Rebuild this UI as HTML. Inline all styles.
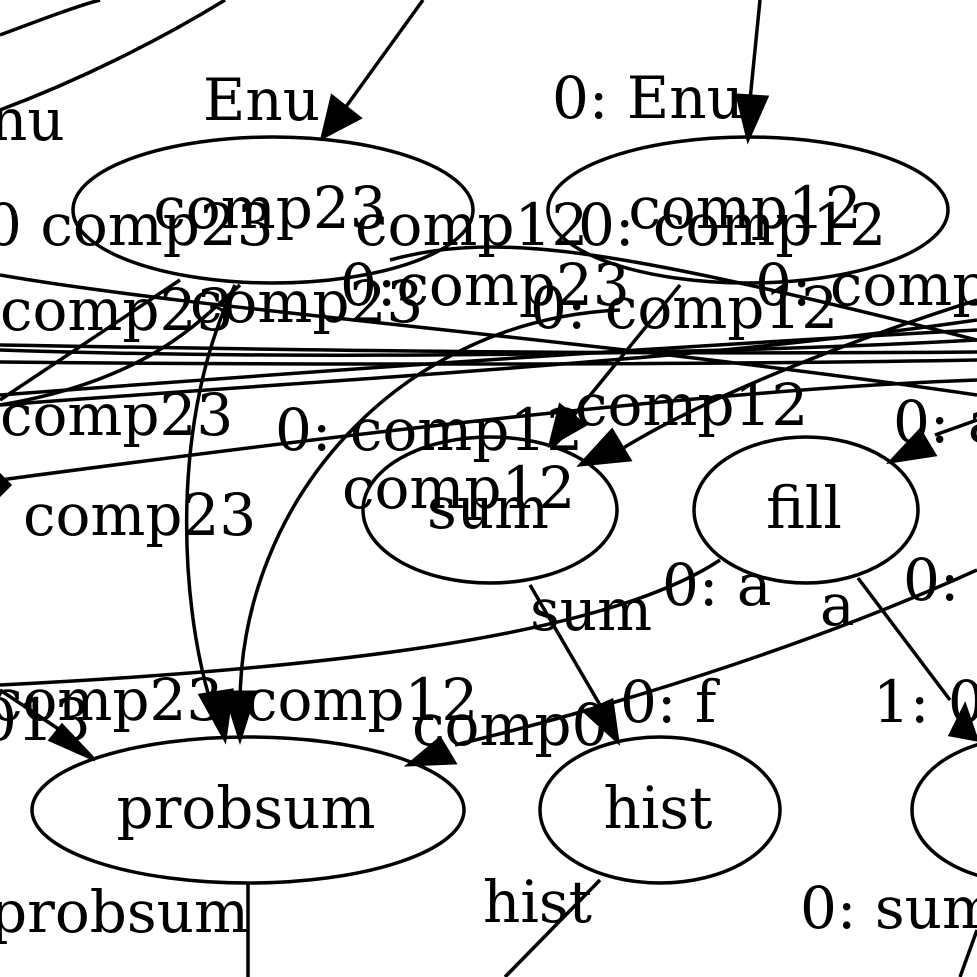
<!DOCTYPE html>
<html><head><meta charset="utf-8"><style>
html,body{margin:0;padding:0;background:#fff;width:977px;height:977px;overflow:hidden}
text{font-family:"DejaVu Serif","Liberation Serif",serif;font-size:58px;fill:#000}
</style></head><body>
<svg width="977" height="977" viewBox="0 0 977 977" xmlns="http://www.w3.org/2000/svg">
<g fill="none" stroke="#000" stroke-width="3.5">
<ellipse cx="273" cy="210" rx="200" ry="73"/>
<ellipse cx="748" cy="210" rx="200" ry="73"/>
<ellipse cx="490" cy="510" rx="127" ry="73"/>
<ellipse cx="806" cy="510" rx="112" ry="73"/>
<ellipse cx="248" cy="810" rx="216" ry="73"/>
<ellipse cx="660" cy="810" rx="120" ry="73"/>
<ellipse cx="1030" cy="810" rx="118" ry="73"/>
<path d="M0,35 C40,20 80,5 100,0"/>
<path d="M0,110 C80,80 160,40 225,0"/>
<path d="M423,0 L340,115"/>
<path d="M760,0 L750,100"/>
<path d="M0,275 C200,310 600,340 977,395"/>
<path d="M0,350 C300,360 700,355 977,340"/>
<path d="M0,362 C300,365 700,365 977,360"/>
<path d="M0,345 C300,350 600,355 977,352"/>
<path d="M0,405 C150,380 200,320 240,285"/>
<path d="M0,395 C200,380 600,350 977,330"/>
<path d="M0,400 L180,280"/>
<path d="M0,405 C400,375 700,360 977,320"/>
<path d="M0,480 C300,440 700,390 977,380"/>
<path d="M235,285 C170,420 180,600 210,700"/>
<path d="M240,705 C240,500 400,320 620,310"/>
<path d="M680,285 L570,420"/>
<path d="M977,300 C850,340 700,400 620,450"/>
<path d="M977,420 L935,435"/>
<path d="M390,260 C500,230 620,250 977,340"/>
<path d="M0,685 C300,670 600,640 720,560"/>
<path d="M0,690 L60,730"/>
<path d="M530,585 L600,705"/>
<path d="M977,570 C800,650 600,710 455,745"/>
<path d="M858,578 L950,700"/>
<path d="M248,883 L248,977"/>
<path d="M600,880 L505,977"/>
<path d="M977,930 L960,977"/>
</g>
<g fill="#000" stroke="#000" stroke-width="3">
<polygon points="322,138 332,96 360,118"/>
<polygon points="748,140 737,95 767,97"/>
<polygon points="550,445 560,405 585,425"/>
<polygon points="580,465 612,430 630,460"/>
<polygon points="890,462 920,430 935,455"/>
<polygon points="0,495 0,475 10,485"/>
<polygon points="225,740 200,695 232,690"/>
<polygon points="240,740 225,692 255,692"/>
<polygon points="95,760 50,740 62,725"/>
<polygon points="618,742 585,712 612,700"/>
<polygon points="408,765 440,738 455,763"/>
<polygon points="977,740 950,735 965,705"/>
</g>
<text x="203" y="120">Enu</text>
<text x="-10" y="140">nu</text>
<text x="552" y="118">0: Enu</text>
<text x="270" y="228" text-anchor="middle">comp23</text>
<text x="745" y="228" text-anchor="middle">comp12</text>
<text x="-15" y="245">0 comp23</text>
<text x="355" y="245">comp12</text>
<text x="578" y="245">0: comp12</text>
<text x="0" y="330">comp23</text>
<text x="190" y="322">comp23</text>
<text x="340" y="305">0:comp23</text>
<text x="755" y="305">0: comp</text>
<text x="530" y="328">0: comp12</text>
<text x="0" y="435">comp23</text>
<text x="275" y="450">0: comp12</text>
<text x="575" y="425">comp12</text>
<text x="893" y="442">0: a</text>
<text x="-15" y="535">: comp23</text>
<text x="342" y="508">comp12</text>
<text x="488" y="528" text-anchor="middle">sum</text>
<text x="804" y="528" text-anchor="middle">fill</text>
<text x="530" y="630">sum</text>
<text x="662" y="605">0: a</text>
<text x="820" y="625">a</text>
<text x="903" y="600">0:</text>
<text x="-10" y="720">comp23</text>
<text x="-20" y="740">013</text>
<text x="245" y="720">comp12</text>
<text x="412" y="745">comp0</text>
<text x="620" y="722">0: f</text>
<text x="873" y="722">1: 0</text>
<text x="246" y="828" text-anchor="middle">probsum</text>
<text x="658" y="828" text-anchor="middle">hist</text>
<text x="-10" y="932">probsum</text>
<text x="483" y="922">hist</text>
<text x="800" y="928">0: sum</text>
</svg>
</body></html>
